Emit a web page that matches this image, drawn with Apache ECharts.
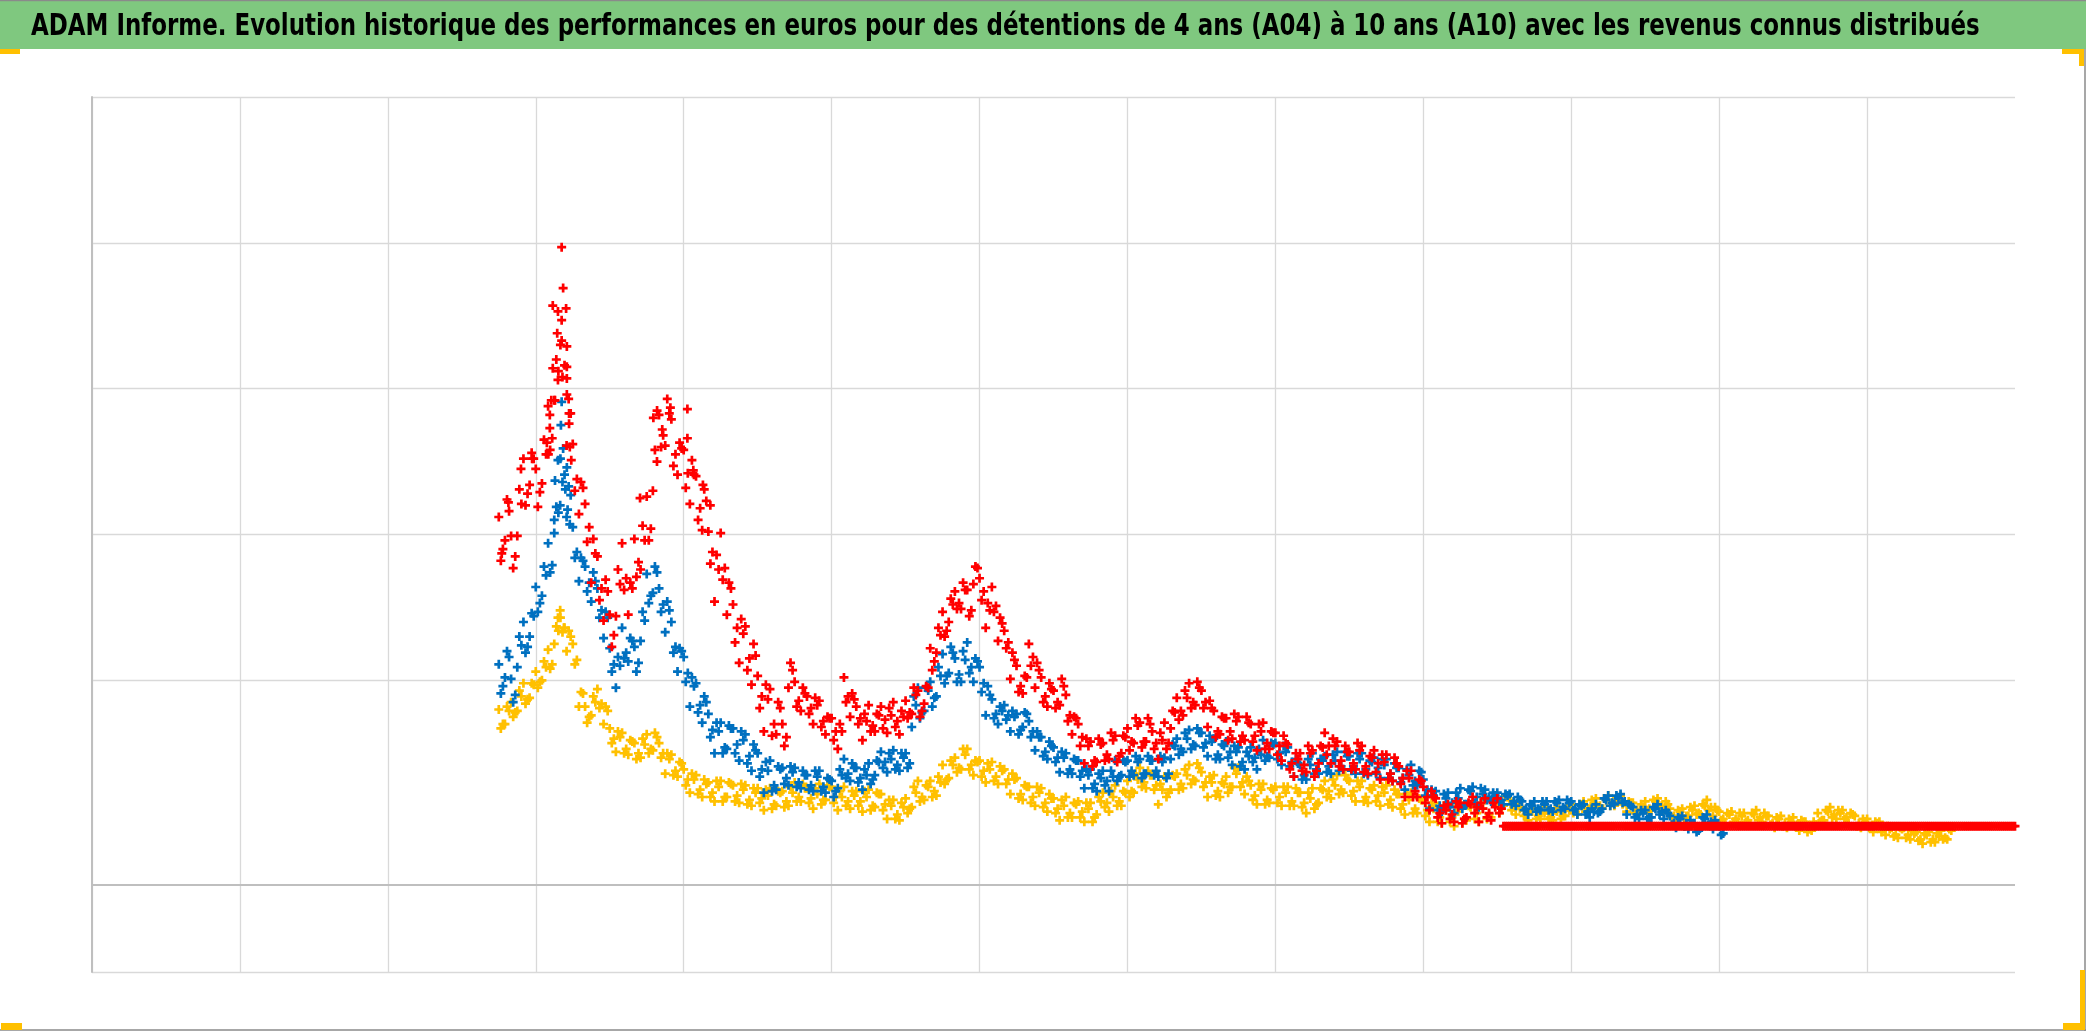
<!DOCTYPE html>
<html>
<head>
<meta charset="utf-8">
<script src="https://cdn.jsdelivr.net/npm/echarts@6/dist/echarts.min.js"></script>
<style>
html,body{margin:0;padding:0;background:#ffffff;}
#chart{width:2086px;height:1031px;}
</style>
</head>
<body>
<div id="chart"></div>
<script>
// ---------- text ----------
const titleText = "ADAM Informe. Evolution historique des performances en euros pour des détentions de 4 ans (A04) à 10 ans (A10) avec les revenus connus distribués";
const seriesNames = ["A04", "A07", "A10"];

// ---------- axes ----------
const xMin = 1998, xMax = 2024, xStep = 2;
const yMin = 0, yMax = 600, yStep = 100;
const axisCrossValue = 60;

// ---------- data ----------
// three readings per month (day 1, day 11, day 21); first month = startYear
const startYear = 2003.5;
const monthStep = 1 / 12;

// day 1
const yellowA04 = [
180,170,185,179,198,188,206,200,221,225,
243,220,225,182,182,176,194,170,167,151,
164,149,157,147,163,152,157,136,149,134,
139,123,135,120,130,117,131,120,128,116,
128,114,126,111,126,114,124,114,130,117,
126,112,129,118,127,111,127,112,124,110,
125,113,122,105,118,104,119,113,131,118,
131,121,142,133,147,139,153,135,145,130,
144,129,139,122,133,118,127,114,126,110,
119,104,120,106,117,103,116,108,123,110,
128,114,131,123,140,126,135,115,134,125,
136,126,142,131,137,120,135,120,134,127,
140,122,128,115,129,116,127,114,127,114,
123,109,126,116,131,119,135,123,131,117,
131,116,128,114,128,113,122,108,123,109,
118,103,116,102,113,100,116,104,116,103,
118,106,119,114,118,108,113,104,112,105,
111,104,112,107,115,108,117,112,119,112,
121,114,121,110,116,109,117,111,119,111,
112,104,112,107,114,108,118,107,110,102,
110,103,109,102,111,103,107,99,107,99,
106,97,103,97,109,104,113,105,111,102,
107,99,105,96,103,94,99,92,99,91,
96,88,96,89,97,91
];
const blueA07 = [
211,202,201,209,240,230,264,258,294,301,
352,312,305,268,278,254,263,229,222,195,
236,213,223,227,273,260,263,233,240,206,
216,182,198,171,177,150,171,153,167,145,
163,138,150,123,145,125,140,128,140,126,
135,124,138,123,131,126,146,131,140,125,
143,135,151,137,152,138,150,168,195,179,
199,189,218,205,215,199,226,199,209,176,
187,170,183,165,177,168,172,152,161,146,
154,137,150,136,145,126,139,124,138,124,
145,135,145,135,146,136,145,134,147,146,
160,151,166,155,164,148,160,146,158,142,
154,139,154,139,159,147,157,142,154,134,
142,132,150,136,148,136,151,139,148,136,
150,135,147,133,146,131,140,125,142,128,
132,112,124,110,123,109,126,115,127,113,
125,117,123,115,122,114,117,108,117,111,
117,110,118,112,117,108,115,106,115,112,
121,115,122,108,113,105,111,106,115,105,
107,99,107,98,102,99,108,98,100
];
const redA10 = [
312,296,299,299,352,334,345,335,388,392,
430,361,362,314,321,267,285,241,245,244,
294,245,297,276,326,330,382,361,379,341,
358,321,340,303,302,254,301,245,252,212,
237,197,203,165,194,163,170,195,199,179,
189,170,186,163,174,153,202,175,182,159,
183,165,182,164,185,163,186,177,193,184,
222,219,247,240,261,249,262,266,270,236,
264,227,234,201,210,191,225,195,202,182,
193,183,190,163,170,143,158,144,157,146,
162,150,167,157,171,158,165,146,171,167,
188,176,198,183,193,168,179,163,174,160,
175,159,170,152,171,153,164,145,156,134,
150,137,152,143,164,143,158,139,151,139,
155,136,152,132,149,131,141,120,138,120,
127,111,119,102,115,103,116,106,120,103,
119,104,119,
100,100,100,100,100,100,100,100,100,100,
100,100,100,100,100,100,100,100,100,100,
100,100,100,100,100,100,100,100,100,100,
100,100,100,100,100,100,100,100,100,100,
100,100,100,100,100,100,100,100,100,100,
100,100,100,100,100,100,100,100,100,100,
100,100,100,100,100,100,100,100,100,100,
100,100,100,100,100,100,100,100,100,100,
100,100,100,100
];

// day 11
const yellowA04Day11 = [
167,182,175,193,184,198,195,213,208,237,
233,234,211,192,171,189,181,182,157,165,
150,159,146,160,150,164,147,150,135,144,
128,136,122,132,120,131,117,130,117,129,
115,126,116,125,112,124,113,127,117,129,
116,126,115,128,116,124,114,124,114,124,
111,123,111,118,105,116,109,127,117,128,
120,134,129,145,137,153,139,145,134,143,
131,141,129,136,119,128,116,127,113,122,
109,118,106,116,106,116,103,120,113,124,
114,124,120,136,127,138,125,129,120,135,
125,139,129,143,127,134,121,130,123,140,
127,134,118,129,115,126,116,127,114,126,
113,123,112,126,120,132,122,135,121,131,
117,126,117,127,115,125,112,122,109,119,
107,116,103,114,103,114,102,114,105,116,
105,118,109,121,111,114,107,111,105,111,
105,111,105,113,109,115,110,118,113,119,
114,120,115,117,109,115,111,118,112,117,
106,111,105,113,108,115,111,113,104,109,
103,109,103,109,104,109,101,106,100,105,
100,104,96,103,103,111,106,111,105,109,
100,105,99,103,96,100,93,99,92,97,
90,95,89,95,91,98
];
const blueA07Day11 = [
191,220,185,230,219,246,247,278,274,319,
336,333,284,284,261,274,243,247,206,216,
215,229,206,247,253,278,247,254,219,222,
199,202,178,189,161,171,150,169,150,165,
143,156,134,144,124,141,129,141,127,138,
125,138,124,133,120,139,133,143,130,139,
129,145,140,150,139,150,140,189,174,195,
182,209,198,223,199,220,205,215,192,196,
174,182,173,179,163,178,161,165,148,158,
144,151,136,146,134,139,126,136,128,138,
131,145,134,148,133,148,135,148,133,156,
149,164,153,167,154,162,146,156,147,155,
141,151,144,153,145,157,146,155,141,146,
132,146,136,146,137,149,138,151,138,150,
136,145,136,146,133,143,130,139,128,138,
121,125,111,122,113,123,112,125,116,126,
118,123,117,122,115,120,111,115,110,117,
111,117,111,118,111,115,108,112,109,119,
114,121,116,115,106,111,105,113,108,111,
101,106,100,104,96,106,101,104,94
];
const redA10Day11 = [
282,324,277,331,320,356,319,365,358,420,
408,393,330,336,295,297,255,269,223,276,
262,267,271,306,296,358,360,393,347,363,
332,351,310,331,280,286,269,267,226,242,
207,225,181,197,162,185,155,212,182,195,
177,188,168,175,159,170,185,191,170,177,
165,177,167,181,168,179,174,195,175,196,
207,236,230,256,249,267,244,278,255,253,
247,243,222,219,192,203,210,212,185,198,
181,201,172,175,155,160,141,160,145,164,
144,162,152,174,154,174,153,164,153,179,
173,193,181,199,181,186,161,175,159,177,
158,175,158,170,153,165,149,162,139,150,
138,155,134,155,149,160,141,155,139,157,
137,148,137,149,132,147,129,138,120,132,
116,124,106,114,105,117,102,116,109,116,
106,116,109,
100,100,100,100,100,100,100,100,100,100,
100,100,100,100,100,100,100,100,100,100,
100,100,100,100,100,100,100,100,100,100,
100,100,100,100,100,100,100,100,100,100,
100,100,100,100,100,100,100,100,100,100,
100,100,100,100,100,100,100,100,100,100,
100,100,100,100,100,100,100,100,100,100,
100,100,100,100,100,100,100,100,100,100,
100,100,100
];

// day 21
const yellowA04Day21 = [
170,179,178,189,187,197,199,209,211,234,
236,230,214,191,175,185,184,179,160,161,
153,158,150,156,153,161,150,146,138,143,
132,132,125,129,123,127,120,129,121,125,
118,123,119,121,115,123,117,123,120,126,
119,122,118,127,120,120,117,121,117,120,
114,122,115,114,108,113,112,123,120,127,
124,130,132,142,140,149,142,144,138,139,
134,138,132,132,122,127,120,123,116,119,
112,114,109,115,110,112,106,117,116,120,
117,123,124,132,130,135,128,125,123,134,
129,135,132,140,130,130,124,129,127,136,
130,131,121,125,118,125,120,123,117,123,
116,119,115,125,124,128,125,132,124,127,
120,125,121,123,118,122,115,118,112,118,
111,112,106,111,106,110,105,113,109,112,
108,115,112,120,113,112,108,110,107,109,
106,110,107,111,110,114,112,116,114,118,
116,118,116,116,111,113,112,117,114,115,
107,110,107,111,109,114,113,111,105,108,
105,107,104,108,106,107,102,105,102,103,
101,103,98,101,104,110,108,109,106,108,
102,103,100,102,98,98,94,98,94,95,
91,94,91,93,92,97
];
const blueA07Day21 = [
196,216,190,224,223,244,253,272,279,315,
341,327,288,282,267,268,248,243,211,210,
219,227,212,241,258,274,252,248,223,220,
205,196,183,185,166,165,154,167,156,159,
148,152,139,138,128,139,133,137,130,135,
128,134,127,132,124,135,136,140,133,135,
132,144,144,146,142,147,143,183,178,193,
188,203,203,219,204,214,209,213,198,190,
177,179,176,175,166,177,165,161,151,155,
147,147,139,145,138,135,129,133,131,134,
134,144,138,144,136,145,138,144,136,155,
153,160,156,164,157,158,149,155,151,151,
144,148,147,149,148,156,150,151,144,143,
135,142,139,145,141,145,141,148,141,146,
139,144,140,142,136,140,133,135,131,137,
125,121,114,119,116,119,115,124,120,122,
120,121,118,121,117,118,112,114,112,115,
112,116,113,116,112,114,110,110,110,118,
116,119,117,114,108,109,106,112,110,109,
102,105,102,102,97,105,103,102,95
];
const redA10Day21 = [
290,316,285,321,328,352,329,355,366,412,
416,383,338,332,305,287,263,261,231,266,
270,263,281,296,304,350,368,383,355,359,
342,341,318,323,288,276,277,263,236,232,
215,217,189,187,170,181,161,207,186,191,
181,183,172,174,165,165,189,187,174,172,
169,176,173,176,172,175,178,190,179,195,
213,231,234,252,253,262,248,277,261,248,
251,239,226,214,196,202,216,207,189,194,
185,196,176,174,161,155,145,156,149,159,
148,161,158,169,158,170,157,159,157,178,
179,188,185,195,185,181,165,174,165,172,
162,171,162,165,157,164,155,157,143,146,
142,150,138,154,155,155,145,151,143,152,
141,147,143,144,136,143,133,133,124,131,
120,120,109,111,108,113,105,115,113,112,
109,113,112,
100,100,100,100,100,100,100,100,100,100,
100,100,100,100,100,100,100,100,100,100,
100,100,100,100,100,100,100,100,100,100,
100,100,100,100,100,100,100,100,100,100,
100,100,100,100,100,100,100,100,100,100,
100,100,100,100,100,100,100,100,100,100,
100,100,100,100,100,100,100,100,100,100,
100,100,100,100,100,100,100,100,100,100,
100,100,100
];

// individual daily points visible around the peaks, [year, value]
const yellowExtra = [[2004.33,248],[2004.30,243],[2004.38,236]];
const blueExtra = [
[2004.35,391],[2004.34,375],[2004.37,359],[2004.30,351],[2004.42,346],[2004.26,337],
[2004.40,331],[2004.33,320],[2004.43,317],[2004.25,310],[2004.46,307]
];
const redExtra = [
[2004.35,497],[2004.37,469],[2004.23,457],[2004.30,453],[2004.41,455],[2004.35,447],
[2004.29,438],[2004.35,433],[2004.42,429],[2004.23,414],[2004.42,415],[2004.30,406],
[2004.42,407],[2004.42,396],[2004.21,392],[2004.26,392],[2004.19,382],[2004.19,373],
[2004.45,383],[2004.45,376],[2004.15,363],[2004.46,360],[2004.17,355],[2004.48,351],
[2005.64,385],[2005.82,387],[2006.05,386],[2006.05,366],[2005.59,380],[2005.71,372],
[2005.41,325],[2006.13,344],[2006.26,334],[2006.36,320],
[2003.54,287],[2003.63,322],[2003.80,345],[2003.95,352]
];

// ---------- helpers ----------
function atDay(arr, frac) { return arr.map((v, i) => [startYear + (i + frac) * monthStep, v]); }
function allPoints(d1, d11, d21, extra) {
  return atDay(d1, 0).concat(atDay(d11, 1 / 3), atDay(d21, 2 / 3), extra);
}
const plusPath = 'path://M3.5,0H6.5V3.5H10V6.5H6.5V10H3.5V6.5H0V3.5H3.5Z';

// fit the title font so it spans the banner like the original
const titleFont = '"DejaVu Sans Condensed", "DejaVu Sans", sans-serif';
const mctx = document.createElement('canvas').getContext('2d');
mctx.font = 'bold 100px ' + titleFont;
const measured = mctx.measureText(titleText).width;
const titleSize = Math.max(20, Math.min(36, 100 * 1950 / measured));

const chart = echarts.init(document.getElementById('chart'), null, {renderer: 'canvas'});

const gridColor = '#d9d9d9';
const axisColor = '#bfbfbf';

function scatter(name, data, color, z) {
  return {
    name: name,
    type: 'scatter',
    data: data,
    symbol: plusPath,
    symbolSize: 9,
    itemStyle: {color: color, opacity: 1},
    z: z,
    silent: true,
    emphasis: {disabled: true}
  };
}

const series = [
  scatter(seriesNames[0], allPoints(yellowA04, yellowA04Day11, yellowA04Day21, yellowExtra), '#FFC000', 2),
  scatter(seriesNames[1], allPoints(blueA07, blueA07Day11, blueA07Day21, blueExtra), '#0070C0', 3),
  scatter(seriesNames[2], allPoints(redA10, redA10Day11, redA10Day21, redExtra), '#FF0000', 4)
];
series[0].markLine = {
  silent: true,
  symbol: 'none',
  label: {show: false},
  lineStyle: {color: axisColor, width: 2, type: 'solid'},
  data: [{yAxis: axisCrossValue}],
  z: 1
};

const option = {
  animation: false,
  backgroundColor: '#ffffff',
  grid: {left: 92, right: 71, top: 97, bottom: 59, containLabel: false},
  xAxis: {
    type: 'value',
    min: xMin, max: xMax, interval: xStep,
    axisLine: {show: false},
    axisTick: {show: false},
    axisLabel: {show: false},
    splitLine: {show: true, showMaxLine: false, lineStyle: {color: gridColor, width: 1.3}}
  },
  yAxis: {
    type: 'value',
    min: yMin, max: yMax, interval: yStep,
    axisLine: {show: true, lineStyle: {color: axisColor, width: 2}},
    axisTick: {show: false},
    axisLabel: {show: false},
    splitLine: {
      show: true,
      lineStyle: {
        color: [gridColor, 'rgba(0,0,0,0)', gridColor, gridColor, gridColor, gridColor, gridColor],
        width: 1.3
      }
    }
  },
  tooltip: {show: false},
  series: series,
  graphic: [
    {type: 'rect', shape: {x: 0, y: 0, width: 2086, height: 49}, style: {fill: '#7fc87f'}, z: 0, silent: true},
    {type: 'line', shape: {x1: 0, y1: 0.5, x2: 2086, y2: 0.5}, style: {stroke: '#8a8a8a', lineWidth: 1.5}, silent: true},
    {type: 'line', shape: {x1: 2085, y1: 49, x2: 2085, y2: 1031}, style: {stroke: '#8a8a8a', lineWidth: 1.5}, silent: true},
    {type: 'line', shape: {x1: 0, y1: 1030, x2: 2086, y2: 1030}, style: {stroke: '#8a8a8a', lineWidth: 1.5}, silent: true},
    {type: 'rect', shape: {x: 0, y: 49, width: 20, height: 5}, style: {fill: '#FFC000'}, silent: true},
    {type: 'rect', shape: {x: 2062, y: 49, width: 22, height: 5}, style: {fill: '#FFC000'}, silent: true},
    {type: 'rect', shape: {x: 2079, y: 49, width: 5, height: 17}, style: {fill: '#FFC000'}, silent: true},
    {type: 'rect', shape: {x: 1, y: 1023, width: 21, height: 7}, style: {fill: '#FFC000'}, silent: true},
    {type: 'rect', shape: {x: 2080, y: 970, width: 5, height: 60}, style: {fill: '#FFC000'}, silent: true},
    {type: 'rect', shape: {x: 2063, y: 1023, width: 22, height: 7}, style: {fill: '#FFC000'}, silent: true},
    {
      type: 'text', x: 31, y: 27, scaleY: 1.18, silent: true, z: 10,
      style: {
        text: titleText,
        font: 'bold ' + titleSize.toFixed(1) + 'px ' + titleFont,
        fill: '#000000',
        verticalAlign: 'middle',
        align: 'left'
      }
    }
  ]
};
chart.setOption(option);
</script>
</body>
</html>
